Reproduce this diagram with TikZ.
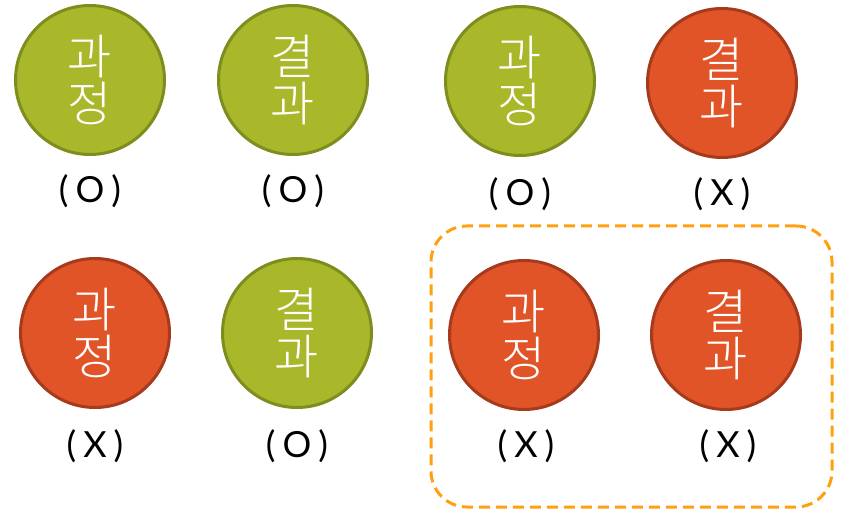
\documentclass[tikz,border=0pt]{standalone}
\usepackage{fontspec}
\setmainfont{Lato}
\newfontfamily\kr{Noto Sans CJK KR Light}
\definecolor{okfill}{HTML}{A8B82A}
\definecolor{okline}{HTML}{7F8C1E}
\definecolor{nofill}{HTML}{E05428}
\definecolor{noline}{HTML}{A63A1C}
\definecolor{boxline}{HTML}{FFA010}
\newcommand{\gap}{\hspace{7pt}}
\begin{document}
\begin{tikzpicture}[x=1pt,y=-1pt,
  bubble/.style={circle, minimum size=149pt, inner sep=0pt, line width=3pt,
    text=white, font=\kr\fontsize{48}{47}\selectfont, align=center},
  ok/.style={bubble, fill=okfill, draw=okline},
  no/.style={bubble, fill=nofill, draw=noline},
  verdict/.style={font=\fontsize{36}{36}\selectfont}]
\useasboundingbox (0,0) rectangle (843,510);
\node[draw=boxline, line width=3pt, dash pattern=on 11pt off 6pt, rounded corners=36pt,
  minimum width=401pt, minimum height=281pt, inner sep=0pt] (box) at (631.5,366.5) {};
\node[ok] (a1) at (90,80) {과\\정};
\node[ok] (a2) at (293,80) {결\\과};
\node[ok] (a3) at (520,81) {과\\정};
\node[no] (a4) at (722,83) {결\\과};
\node[no] (b1) at (95,333) {과\\정};
\node[ok] (b2) at (297,333) {결\\과};
\node[no] (b3) at (524,335) {과\\정};
\node[no] (b4) at (726,335) {결\\과};
\node[verdict] (la1) at (90,191) {(\gap O\gap)};
\node[verdict] (la2) at (293,191) {(\gap O\gap)};
\node[verdict] (la3) at (520,194) {(\gap O\gap)};
\node[verdict] (la4) at (722,194) {(\gap X\gap)};
\node[verdict] (lb1) at (95,446) {(\gap X\gap)};
\node[verdict] (lb2) at (297,446) {(\gap O\gap)};
\node[verdict] (lb3) at (526,446) {(\gap X\gap)};
\node[verdict] (lb4) at (728,446) {(\gap X\gap)};
\end{tikzpicture}
\end{document}
